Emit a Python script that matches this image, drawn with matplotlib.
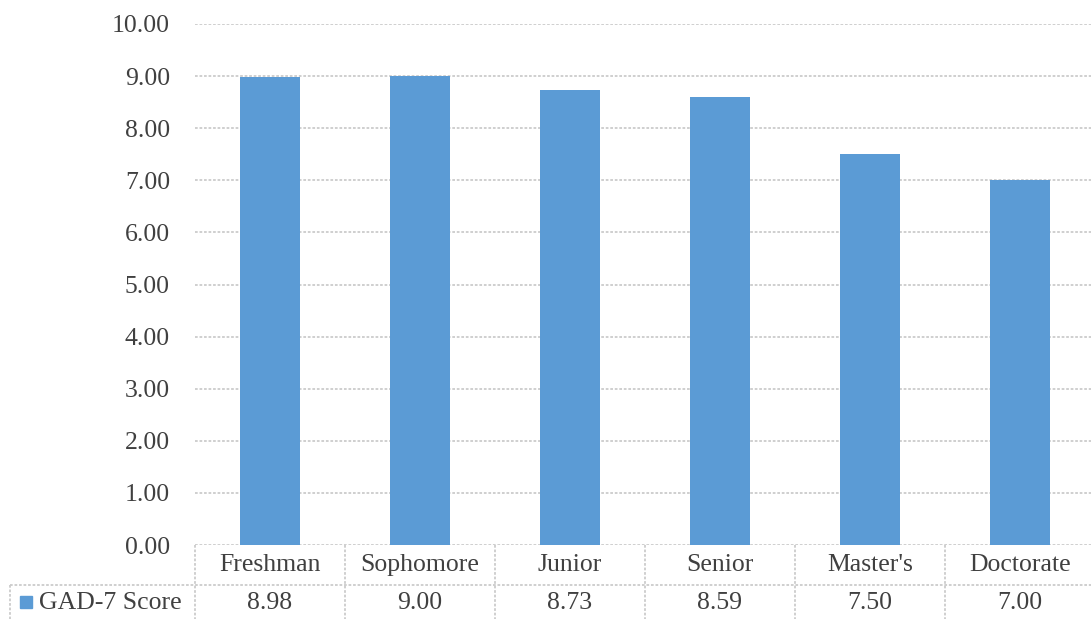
import matplotlib.pyplot as plt
import numpy as np

# data
categories = ['Freshman', 'Sophomore', 'Junior', 'Senior', "Master's", 'Doctorate']
scores = [8.98, 9.00, 8.73, 8.59, 7.50, 7.00]
series_name = 'GAD-7 Score'
yticks = [0, 1, 2, 3, 4, 5, 6, 7, 8, 9, 10]

W, H = 1091, 619
plt.rcParams['font.family'] = ['Liberation Serif', 'DejaVu Serif']
text_col = '#404040'
grid_col = '#cccccc'
bar_col = '#5B9BD5'
fs = 18.5

fig = plt.figure(figsize=(W / 100, H / 100), dpi=100)
# plot area in pixels: x 195..1095, y 24..545
x0, x1, y_top, y_bot = 195, 1095, 24, 545
ax = fig.add_axes([x0 / W, 1 - y_bot / H, (x1 - x0) / W, (y_bot - y_top) / H])

x = np.arange(len(categories))
ax.bar(x, scores, width=0.4, color=bar_col, zorder=3)
ax.set_xlim(-0.5, len(categories) - 0.5)
ax.set_ylim(0, 10)
ax.set_yticks(yticks)
ax.set_yticklabels([f'{v:.2f}' for v in yticks], fontsize=fs, color=text_col)
ax.tick_params(axis='y', length=0, pad=18)
ax.set_xticks([])
for v in yticks:
    ax.axhline(v, color=grid_col, lw=1.3, ls=(0, (1.5, 1)), zorder=1)
for s in ax.spines.values():
    s.set_visible(False)

# data table below the plot, in pixel coords
def px(xp, yp):
    return xp / W, 1 - yp / H

col_w = (x1 - x0) / len(categories)
row1, row2, row3 = 545, 585, 619
lkw = dict(color=grid_col, lw=1.3, ls=(0, (1.5, 1)), transform=fig.transFigure, clip_on=False)
fig.add_artist(plt.Line2D(*zip(px(10, row2), px(x1, row2)), **lkw))
fig.add_artist(plt.Line2D(*zip(px(10, row2), px(10, row3)), **lkw))
for i in range(len(categories) + 1):
    xb = x0 + i * col_w
    fig.add_artist(plt.Line2D(*zip(px(xb, row1), px(xb, row3)), **lkw))

for i, (c, v) in enumerate(zip(categories, scores)):
    xc = x0 + (i + 0.5) * col_w
    fig.text(*px(xc, (row1 + row2) / 2), c, ha='center', va='center',
             fontsize=fs, color=text_col)
    fig.text(*px(xc, (row2 + row3) / 2 + 1), f'{v:.2f}', ha='center', va='center',
             fontsize=fs, color=text_col)

# legend key
fig.patches.append(plt.Rectangle(px(20, 608), 12 / W, 12 / H, color=bar_col,
                                 transform=fig.transFigure))
fig.text(*px(39, (row2 + row3) / 2 + 1), series_name, ha='left', va='center',
         fontsize=fs, color=text_col)

fig.savefig('out.png', dpi=100)
